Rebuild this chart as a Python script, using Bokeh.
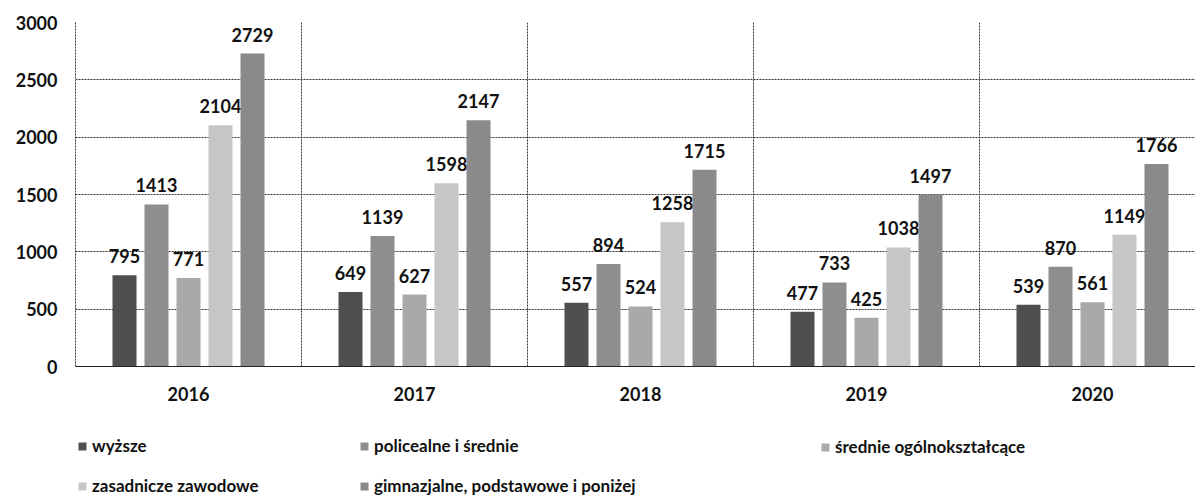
from bokeh.plotting import figure
from bokeh.models import Range1d, FixedTicker, Legend, LegendItem, ColumnDataSource, Span
from bokeh.core.properties import value
from bokeh.embed import file_html
from bokeh.resources import INLINE

years = ["2016", "2017", "2018", "2019", "2020"]
series_names = ["wyższe", "policealne i średnie", "średnie ogólnokształcące",
                "zasadnicze zawodowe", "gimnazjalne, podstawowe i poniżej"]
wyzsze = [795, 649, 557, 477, 539]
policealne = [1413, 1139, 894, 733, 870]
srednie_ogolne = [771, 627, 524, 425, 561]
zasadnicze = [2104, 1598, 1258, 1038, 1149]
gimnazjalne = [2729, 2147, 1715, 1497, 1766]
y_ticks = [0, 500, 1000, 1500, 2000, 2500, 3000]

all_series = [wyzsze, policealne, srednie_ogolne, zasadnicze, gimnazjalne]
colors = ["#4f4f4f", "#8e8e8e", "#a9a9a9", "#c6c6c6", "#8a8a8a"]

FONT = "Lato"
CAT_PX = 226.0          # pixels per category
PLOT_PX = 344.0         # pixels from 0 to the top tick
W, H = 1195, 502
TOP, LEFT = 22, 75
frame_w = W - LEFT
frame_h = H - TOP - 2
ymax = y_ticks[-1]
ymin = -(frame_h - PLOT_PX) * ymax / PLOT_PX   # room under the axis for year labels + legend

p = figure(width=W, height=H, output_backend="svg", toolbar_location=None,
           x_range=Range1d(0, frame_w / CAT_PX), y_range=Range1d(ymin, ymax),
           x_axis_location=None,
           min_border_left=LEFT, min_border_right=0, min_border_top=TOP, min_border_bottom=2)
p.outline_line_color = None

centers = [i + 0.5 for i in range(len(years))]
step = 32.0 / CAT_PX
bw = 24.0 / CAT_PX

# grid: horizontal lines and category separators (only within the value area)
p.ygrid.ticker = FixedTicker(ticks=y_ticks[1:])
p.ygrid.grid_line_color = "#333333"
p.ygrid.grid_line_dash = "2 1"
p.xgrid.visible = False
bounds = list(range(1, len(years)))
p.segment(x0=bounds, y0=[0] * len(bounds), x1=bounds, y1=[ymax] * len(bounds),
          line_color="#333333", line_dash="2 1", line_width=1)
p.add_layout(Span(location=0, dimension="width", line_color="#222222", line_width=1))

renderers = []
for k, (vals, col) in enumerate(zip(all_series, colors)):
    xs = [c + (k - 2) * step for c in centers]
    src = ColumnDataSource(dict(x=xs, top=vals, lab=[str(v) for v in vals]))
    r = p.vbar(x="x", top="top", width=bw, bottom=0, source=src,
               fill_color=col, line_color=None)
    renderers.append(r)
    p.text(x="x", y="top", text="lab", source=src, text_align="center",
           text_baseline="middle", y_offset=-19, text_font=value(FONT),
           text_font_style="bold", text_font_size="18px", text_color="#111111")

# year labels under the axis
p.text(x=centers, y=[0] * len(centers), text=years, text_align="center",
       text_baseline="middle", y_offset=27, text_font=value(FONT),
       text_font_style="bold", text_font_size="18px", text_color="#111111")

# y axis (line limited to the value area)
p.yaxis.ticker = FixedTicker(ticks=y_ticks)
p.yaxis.bounds = (0, ymax)
p.yaxis.major_tick_line_color = None
p.yaxis.minor_tick_line_color = None
p.yaxis.axis_line_color = "#333333"
p.yaxis.axis_line_dash = "2 1"
p.yaxis.major_label_standoff = 12
p.yaxis.major_label_text_font = FONT
p.yaxis.major_label_text_font_style = "bold"
p.yaxis.major_label_text_font_size = "18px"
p.yaxis.major_label_text_color = "#111111"

# legend: three columns at the bottom
columns = [([0, 3], (2, 4)), ([1, 4], (284, 4)), ([2], (745, 43))]
for idxs, loc in columns:
    items = [LegendItem(label=series_names[i], renderers=[renderers[i]]) for i in idxs]
    lg = Legend(items=items, location=loc, orientation="vertical",
                padding=0, margin=0, spacing=19, glyph_width=10, glyph_height=10,
                label_height=20, label_standoff=5, border_line_color=None,
                background_fill_alpha=0, label_text_font=FONT,
                label_text_font_style="bold", label_text_font_size="17px",
                label_text_color="#111111")
    p.add_layout(lg, "center")

open("out.html", "w").write(file_html(p, INLINE))
